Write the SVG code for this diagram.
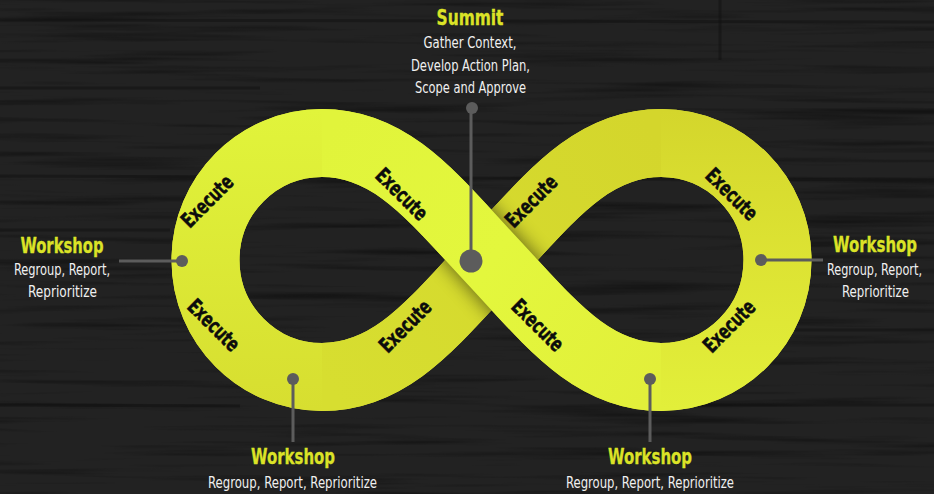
<svg xmlns="http://www.w3.org/2000/svg" width="934" height="494" viewBox="0 0 934 494">
  <defs>
    <style>
      .band { fill: none; stroke-width: 68; stroke-linecap: butt; }
      .exec { font-family: "DejaVu Sans Condensed", "DejaVu Sans", sans-serif; font-stretch: condensed; font-weight: bold; font-size: 21px; fill: #0c0c0c; stroke: #0c0c0c; stroke-width: 0.5; text-anchor: middle; }
      .head { font-family: "DejaVu Sans Condensed", "DejaVu Sans", sans-serif; font-stretch: condensed; font-weight: bold; font-size: 22px; fill: #dbe327; stroke: #dbe327; stroke-width: 0.3; text-anchor: middle; }
      .desc { font-family: "DejaVu Sans Condensed", "DejaVu Sans", sans-serif; font-stretch: condensed; font-size: 16px; fill: #f0f0f0; text-anchor: middle; }
      .wire { stroke: #5c5c5c; stroke-width: 3; fill: none; }
      .dot { fill: #5c5c5c; }
      .seam { stroke: #111; stroke-width: 3; opacity: 0.5; }
    </style>

    <!-- wood grain for the plank background -->
    <filter id="grain" x="0" y="0" width="100%" height="100%" filterUnits="userSpaceOnUse">
      <feTurbulence type="fractalNoise" baseFrequency="0.004 0.12" numOctaves="3" seed="7"/>
      <feColorMatrix type="matrix" values="0 0 0 0 0  0 0 0 0 0  0 0 0 0 0  1.1 0 0 0 -0.55"/>
    </filter>

    <filter id="soft" x="-40%" y="-40%" width="180%" height="180%">
      <feGaussianBlur stdDeviation="9"/>
    </filter>

    <!-- band colour ramps -->
    <linearGradient id="gLeft" gradientUnits="userSpaceOnUse" x1="0" y1="110" x2="0" y2="410">
      <stop offset="0" stop-color="#e1f43b"/>
      <stop offset="1" stop-color="#d7de30"/>
    </linearGradient>
    <linearGradient id="gRight" gradientUnits="userSpaceOnUse" x1="0" y1="110" x2="0" y2="410">
      <stop offset="0" stop-color="#d4d62c"/>
      <stop offset="0.5" stop-color="#dde333"/>
      <stop offset="1" stop-color="#e2ef3a"/>
    </linearGradient>
    <linearGradient id="gBack" gradientUnits="userSpaceOnUse" x1="322" y1="377" x2="661" y2="143">
      <stop offset="0" stop-color="#d7de30"/>
      <stop offset="1" stop-color="#d4d62c"/>
    </linearGradient>
    <linearGradient id="gFront" gradientUnits="userSpaceOnUse" x1="661" y1="377" x2="322" y2="143">
      <stop offset="0" stop-color="#e2ef3a"/>
      <stop offset="0.5" stop-color="#e3f73d"/>
      <stop offset="1" stop-color="#e1f43b"/>
    </linearGradient>

    <path id="backPath" d="M322,377 C392,377 433.5,322 491.5,260 C549.5,198 591,143 661,143"/>
    <path id="frontPath" d="M661,377 C591,377 549.5,322 491.5,260 C433.5,198 392,143 322,143"/>

    <mask id="backMask" maskUnits="userSpaceOnUse" x="0" y="0" width="934" height="494">
      <use href="#backPath" fill="none" stroke="#fff" stroke-width="68"/>
    </mask>
  </defs>

  <!-- plank background -->
  <g id="background">
    <rect width="934" height="494" fill="#222222"/>
    <rect width="934" height="494" filter="url(#grain)"/>
    <line class="seam" x1="0" y1="20" x2="934" y2="22"/>
    <line class="seam" x1="0" y1="88" x2="260" y2="88"/>
    <line class="seam" x1="0" y1="176" x2="934" y2="180"/>
    <line class="seam" x1="0" y1="230" x2="170" y2="230"/>
    <line class="seam" x1="760" y1="330" x2="934" y2="330"/>
    <line class="seam" x1="0" y1="405" x2="240" y2="406"/>
    <line class="seam" x1="700" y1="405" x2="934" y2="405"/>
    <line class="seam" x1="720" y1="0" x2="720" y2="60"/>
  </g>

  <!-- infinity band -->
  <g id="infinity-loop">
    <path class="band" stroke="#dce634" d="M491.5,260 C433.5,198 392,143 322,143 C257.7,143 205.5,195.4 205.5,260 C205.5,324.6 257.7,377 322,377 C392,377 433.5,322 491.5,260 C549.5,198 591,143 661,143 C725.3,143 777.5,195.4 777.5,260 C777.5,324.6 725.3,377 661,377 C591,377 549.5,322 491.5,260 Z"/>
    <path class="band" stroke="url(#gLeft)" d="M322,143 C257.7,143 205.5,195.4 205.5,260 C205.5,324.6 257.7,377 322,377"/>
    <path class="band" stroke="url(#gRight)" d="M661,143 C725.3,143 777.5,195.4 777.5,260 C777.5,324.6 725.3,377 661,377"/>
    <use href="#backPath" class="band" stroke="url(#gBack)"/>
    <!-- shadow cast by the upper strand onto the lower one -->
    <g mask="url(#backMask)">
      <path d="M428,190 L555,330" fill="none" stroke="#000" stroke-width="72" opacity="0.5" filter="url(#soft)"/>
    </g>
    <use href="#frontPath" class="band" stroke="url(#gFront)"/>
  </g>

  <!-- Execute labels along the band -->
  <g id="execute-labels">
    <text class="exec" transform="translate(207,201) rotate(-45)" y="7.5" textLength="64" lengthAdjust="spacingAndGlyphs">Execute</text>
    <text class="exec" transform="translate(402,194) rotate(45)" y="7.5" textLength="64" lengthAdjust="spacingAndGlyphs">Execute</text>
    <text class="exec" transform="translate(214,325) rotate(45)" y="7.5" textLength="64" lengthAdjust="spacingAndGlyphs">Execute</text>
    <text class="exec" transform="translate(405,326) rotate(-45)" y="7.5" textLength="64" lengthAdjust="spacingAndGlyphs">Execute</text>
    <text class="exec" transform="translate(531,201) rotate(-45)" y="7.5" textLength="64" lengthAdjust="spacingAndGlyphs">Execute</text>
    <text class="exec" transform="translate(732,194) rotate(45)" y="7.5" textLength="64" lengthAdjust="spacingAndGlyphs">Execute</text>
    <text class="exec" transform="translate(538,325) rotate(45)" y="7.5" textLength="64" lengthAdjust="spacingAndGlyphs">Execute</text>
    <text class="exec" transform="translate(729,326) rotate(-45)" y="7.5" textLength="64" lengthAdjust="spacingAndGlyphs">Execute</text>
  </g>

  <!-- leader lines and pins -->
  <g id="connectors">
    <line class="wire" x1="471" y1="108" x2="471" y2="261"/>
    <circle class="dot" cx="472" cy="108" r="6"/>
    <circle class="dot" cx="471" cy="261" r="11.5"/>

    <line class="wire" x1="119" y1="261" x2="182" y2="261"/>
    <circle class="dot" cx="182" cy="261" r="6"/>

    <line class="wire" x1="761" y1="260" x2="823" y2="260"/>
    <circle class="dot" cx="761" cy="260" r="6"/>

    <line class="wire" x1="293" y1="379" x2="293" y2="442"/>
    <circle class="dot" cx="293" cy="379" r="6"/>

    <line class="wire" x1="650" y1="379" x2="650" y2="442"/>
    <circle class="dot" cx="650" cy="379" r="6"/>
  </g>

  <g id="summit">
    <text class="head" x="470" y="25" textLength="67" lengthAdjust="spacingAndGlyphs">Summit</text>
    <text class="desc" x="470" y="48" textLength="93" lengthAdjust="spacingAndGlyphs">Gather Context,</text>
    <text class="desc" x="470.5" y="71" textLength="119" lengthAdjust="spacingAndGlyphs">Develop Action Plan,</text>
    <text class="desc" x="470.5" y="93" textLength="111" lengthAdjust="spacingAndGlyphs">Scope and Approve</text>
  </g>

  <g id="workshop-left">
    <text class="head" x="62" y="253" textLength="83" lengthAdjust="spacingAndGlyphs">Workshop</text>
    <text class="desc" x="62" y="275" textLength="96" lengthAdjust="spacingAndGlyphs">Regroup, Report,</text>
    <text class="desc" x="62.5" y="297" textLength="69" lengthAdjust="spacingAndGlyphs">Reprioritize</text>
  </g>

  <g id="workshop-right">
    <text class="head" x="875" y="252" textLength="84" lengthAdjust="spacingAndGlyphs">Workshop</text>
    <text class="desc" x="874.5" y="275" textLength="95" lengthAdjust="spacingAndGlyphs">Regroup, Report,</text>
    <text class="desc" x="875.5" y="297" textLength="67" lengthAdjust="spacingAndGlyphs">Reprioritize</text>
  </g>

  <g id="workshop-bottom-left">
    <text class="head" x="293" y="464" textLength="84" lengthAdjust="spacingAndGlyphs">Workshop</text>
    <text class="desc" x="292.5" y="488" textLength="169" lengthAdjust="spacingAndGlyphs">Regroup, Report, Reprioritize</text>
  </g>

  <g id="workshop-bottom-right">
    <text class="head" x="650" y="464" textLength="84" lengthAdjust="spacingAndGlyphs">Workshop</text>
    <text class="desc" x="650" y="488" textLength="168" lengthAdjust="spacingAndGlyphs">Regroup, Report, Reprioritize</text>
  </g>
</svg>
